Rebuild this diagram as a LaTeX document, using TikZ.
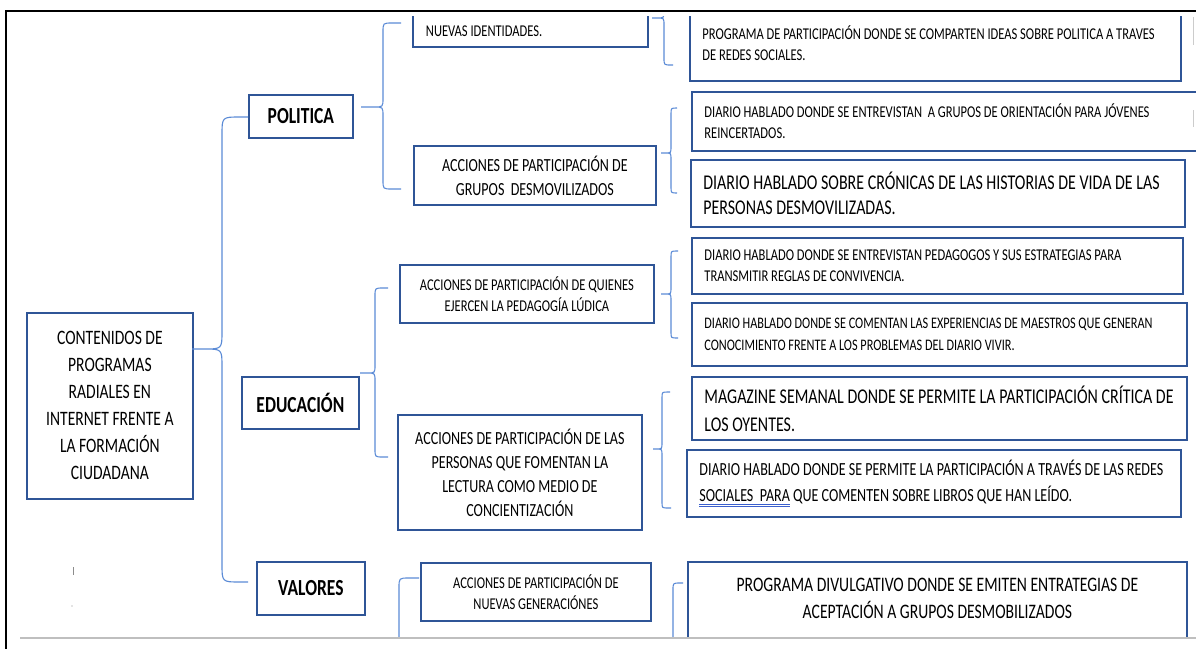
\documentclass[tikz,border=0pt]{standalone}
\usepackage{fontspec}
\setmainfont[FakeStretch=0.76]{Carlito}
\usetikzlibrary{calc}

\definecolor{bordeazul}{HTML}{2F5597}
\definecolor{llaveazul}{HTML}{5B8BD6}
\definecolor{subrayado}{HTML}{3A5FCD}

% doble subrayado azul del corrector
\newsavebox{\cajatexto}
\newcommand{\subdoble}[1]{\mbox{\sbox{\cajatexto}{#1}%
  \rlap{\color{subrayado}\rule[-2.6pt]{\wd\cajatexto}{0.6pt}}%
  \rlap{\color{subrayado}\rule[-4.4pt]{\wd\cajatexto}{0.6pt}}%
  \usebox{\cajatexto}}}

% llave: punta, extremo de arriba, extremo de abajo, distancia al lomo, radio
\newcommand{\llave}[5]{%
  \draw[trazollave] let \p1 = (#1), \p2 = (#2), \p3 = (#3) in
    (\p2) -- (\x1+#4pt+#5pt, \y2) .. controls (\x1+#4pt, \y2) .. (\x1+#4pt, \y2-#5pt)
    -- (\x1+#4pt, \y1+#5pt) .. controls (\x1+#4pt, \y1) .. (\x1+#4pt-#5pt, \y1) -- (\p1)
    -- (\x1+#4pt-#5pt, \y1) .. controls (\x1+#4pt, \y1) .. (\x1+#4pt, \y1-#5pt)
    -- (\x1+#4pt, \y3+#5pt) .. controls (\x1+#4pt, \y3) .. (\x1+#4pt+#5pt, \y3) -- (\p3);
}

\begin{document}
\begin{tikzpicture}[
    x = 1pt, y = -1pt,
    caja/.style 2 args = {draw = bordeazul, line width = 1.8pt, anchor = north west,
        minimum width = #1pt, minimum height = #2pt, inner ysep = 0pt, inner xsep = 2pt},
    izq/.code 2 args = {\pgfmathsetmacro\anchotexto{#1-25}%
        \tikzset{caja = {#1}{#2}, inner xsep = 12.5pt, text width = \anchotexto pt, align = left,
        execute at begin node = {\spaceskip = 0pt\xspaceskip = 0pt\hyphenpenalty = 10000}}},
    borde/.style = {draw = bordeazul, line width = 1.8pt},
    trazollave/.style = {draw = llaveazul, line width = 1.1pt},
    chica/.style = {font = \fontsize{16.5}{21}\selectfont},
    media/.style = {font = \fontsize{18.5}{24}\selectfont},
    grande/.style = {font = \fontsize{21}{25}\selectfont},
    titulo/.style = {font = \bfseries\fontsize{23}{28}\selectfont}]

\useasboundingbox (0,0) rectangle (1196,649);

% marco de la ventana
\draw[line width = 2.2pt] (6,11) -- (1196,11);
\draw[line width = 2.2pt] (6,10) -- (6,649);
\draw[black!25, line width = 2pt] (20,638) -- (1196,638);
\draw[black!20, line width = 1pt] (1193,17) -- (1193,45) (1193,110) -- (1193,127);
\draw[black!45, line width = 0.6pt] (73,567) -- (73,575);
\fill[black!45] (72,606) circle [radius = 0.7];

\begin{scope}
\clip (8,16.5) rectangle (1196,636);

% raiz y ejes
\node[caja = {166}{186}, font = \fontsize{20.5}{27}\selectfont, align = center] (raiz) at (26,312)
    {CONTENIDOS DE\\PROGRAMAS\\RADIALES EN\\INTERNET FRENTE A\\LA FORMACIÓN\\CIUDADANA};
\node[caja = {104}{43}, titulo] (pol) at (248,94) {POLITICA};
\node[caja = {117}{52}, titulo] (edu) at (241,376) {EDUCACIÓN};
\node[caja = {108}{53}, titulo] (val) at (256,561) {VALORES};

% acciones
\node[izq = {234}{32}, chica, inner xsep = 13pt] (nid) at (412,14) {NUEVAS IDENTIDADES.};
\node[caja = {242}{59}, media, align = center] (desm) at (413,145)
    {ACCIONES DE PARTICIPACIÓN DE\\GRUPOS\ \ DESMOVILIZADOS};
\node[caja = {254}{58}, chica, align = center] (quie) at (399,264)
    {ACCIONES DE PARTICIPACIÓN DE QUIENES\\EJERCEN LA PEDAGOGÍA LÚDICA};
\node[caja = {244}{115}, media, align = center] (lect) at (397,414)
    {ACCIONES DE PARTICIPACIÓN DE LAS\\PERSONAS QUE FOMENTAN LA\\LECTURA COMO MEDIO DE\\CONCIENTIZACIÓN};
\node[caja = {230}{58}, chica, align = center] (gen) at (420,562)
    {ACCIONES DE PARTICIPACIÓN DE\\NUEVAS GENERACIÓNES};

% programas
\node[izq = {491}{76}, chica] (prog) at (689,4)
    {PROGRAMA DE PARTICIPACIÓN DONDE SE COMPARTEN IDEAS SOBRE POLITICA A TRAVES\\DE REDES SOCIALES.};
\node[izq = {509}{59}, chica] (rein) at (691,91)
    {DIARIO HABLADO DONDE SE ENTREVISTAN\ \ A GRUPOS DE ORIENTACIÓN PARA JÓVENES\\REINCERTADOS.};
\node[izq = {494}{67}, grande] (cron) at (690,159)
    {DIARIO HABLADO SOBRE CRÓNICAS DE LAS HISTORIAS DE VIDA DE LAS\\PERSONAS DESMOVILIZADAS.};
\node[izq = {491}{56}, chica] (peda) at (691,237)
    {DIARIO HABLADO DONDE SE ENTREVISTAN PEDAGOGOS Y SUS ESTRATEGIAS PARA\\TRANSMITIR REGLAS DE CONVIVENCIA.};
\node[izq = {495}{63}, font = \fontsize{16.1}{22}\selectfont] (maes) at (691,302)
    {DIARIO HABLADO DONDE SE COMENTAN LAS EXPERIENCIAS DE MAESTROS QUE GENERAN\\CONOCIMIENTO FRENTE A LOS PROBLEMAS DEL DIARIO VIVIR.};
\node[izq = {495}{63}, font = \fontsize{21}{28}\selectfont] (maga) at (691,376)
    {MAGAZINE SEMANAL DONDE SE PERMITE LA PARTICIPACIÓN CRÍTICA DE\\LOS OYENTES.};
\node[izq = {494}{67}, font = \fontsize{18.5}{26}\selectfont] (rede) at (686,449)
    {DIARIO HABLADO DONDE SE PERMITE LA PARTICIPACIÓN A TRAVÉS DE LAS REDES\\\subdoble{SOCIALES\ \ PARA} QUE COMENTEN SOBRE LIBROS QUE HAN LEÍDO.};
\node[caja = {497}{70}, draw = none, font = \fontsize{20.6}{27}\selectfont, align = center] (divu) at (688,562)
    {PROGRAMA DIVULGATIVO DONDE SE EMITEN ENTRATEGIAS DE\\ACEPTACIÓN A GRUPOS DESMOBILIZADOS};
% la caja sigue debajo del borde de la ventana
\draw[borde] ($(divu.south west)+(0,12)$) |- (divu.north east) -- ($(divu.south east)+(0,12)$);

% puntas y extremos de las llaves
\coordinate (raiz-p) at (192,349);
\coordinate (raiz-a) at (248,117);
\coordinate (raiz-b) at (248,582);
\coordinate (pol-p) at (361,107);
\coordinate (pol-a) at (401,23);
\coordinate (pol-b) at (401,189);
\coordinate (nid-p) at (652,18);
\coordinate (nid-a) at (673,-40);
\coordinate (nid-b) at (673,65);
\coordinate (desm-p) at (661,153);
\coordinate (desm-a) at (677,108);
\coordinate (desm-b) at (677,193);
\coordinate (edu-p) at (360,373);
\coordinate (edu-a) at (388,288);
\coordinate (edu-b) at (388,457);
\coordinate (quie-p) at (661,294);
\coordinate (quie-a) at (678,251);
\coordinate (quie-b) at (678,338);
\coordinate (lect-p) at (653,449);
\coordinate (lect-a) at (670,392);
\coordinate (lect-b) at (671,508);
\coordinate (val-p) at (380,700);
\coordinate (val-a) at (419,578);
\coordinate (val-b) at (419,820);
\coordinate (divu-p) at (664,700);
\coordinate (divu-a) at (683,583);
\coordinate (divu-b) at (683,800);

\llave{raiz-p}{raiz-a}{raiz-b}{30}{18}
\llave{pol-p}{pol-a}{pol-b}{22}{9}
\llave{nid-p}{nid-a}{nid-b}{12}{7}
\llave{desm-p}{desm-a}{desm-b}{10}{6}
\llave{edu-p}{edu-a}{edu-b}{15}{8}
\llave{quie-p}{quie-a}{quie-b}{10}{6}
\llave{lect-p}{lect-a}{lect-b}{9}{6}
\llave{val-p}{val-a}{val-b}{19}{10}
\llave{divu-p}{divu-a}{divu-b}{9}{7}
\end{scope}
\end{tikzpicture}
\end{document}
